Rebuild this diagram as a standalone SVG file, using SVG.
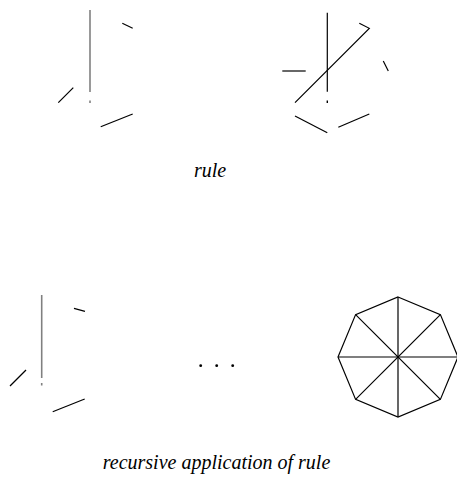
<svg xmlns="http://www.w3.org/2000/svg" width="457" height="479" viewBox="0 0 457 479">
<style>
.e{stroke:#000;stroke-width:1.2;fill:none;stroke-linecap:butt}
.g{stroke:#808080;stroke-width:1.6;fill:none}
.d{fill:#808080}
.t{font-family:"Liberation Serif",serif;font-style:italic;font-size:20px;fill:#000;text-anchor:middle}
</style>
<g id="rule-lhs">
<line class="g" x1="90" y1="10" x2="90" y2="92"/>
<rect class="d" x="89.2" y="100.5" width="1.6" height="2.5"/>
<line class="e" x1="122.3" y1="23.3" x2="132.7" y2="28.3"/>
<line class="e" x1="58.3" y1="102.7" x2="73.3" y2="87.7"/>
<line class="e" x1="100.7" y1="126.7" x2="132.7" y2="114"/>
</g>
<g id="rule-rhs">
<line class="e" x1="327.3" y1="12.7" x2="327.3" y2="91.7"/>
<rect x="326.6" y="100.5" width="1.4" height="2.5" fill="#000"/>
<polyline class="e" points="359.3,23.3 369.3,28.3 295,102.7"/>
<line class="e" x1="282.3" y1="71" x2="305.7" y2="71"/>
<line class="e" x1="383.3" y1="61" x2="388.3" y2="71"/>
<line class="e" x1="295" y1="116" x2="327.3" y2="132.7"/>
<line class="e" x1="338.3" y1="127.3" x2="369.3" y2="114"/>
</g>
<g id="seed">
<line class="g" x1="41.7" y1="295" x2="41.7" y2="378"/>
<rect class="d" x="40.9" y="383" width="1.6" height="2.5"/>
<line class="e" x1="74" y1="308.3" x2="85" y2="311.3"/>
<line class="e" x1="10" y1="386" x2="26" y2="370"/>
<line class="e" x1="52.7" y1="411.7" x2="84.7" y2="399"/>
</g>
<g id="dots">
<circle cx="200.7" cy="365.7" r="1.4"/>
<circle cx="216.7" cy="365.7" r="1.4"/>
<circle cx="232.7" cy="365.7" r="1.4"/>
</g>
<g id="octagon">
<polygon class="e" points="398,297 440.4,314.6 458,357 440.4,399.4 398,417 355.6,399.4 338,357 355.6,314.6"/>
<line class="e" x1="398" y1="297" x2="398" y2="417"/>
<line class="e" x1="338" y1="357" x2="458" y2="357"/>
<line class="e" x1="355.6" y1="314.6" x2="440.4" y2="399.4"/>
<line class="e" x1="440.4" y1="314.6" x2="355.6" y2="399.4"/>
</g>
<g id="labels">
<text class="t" x="210" y="177">rule</text>
<text class="t" x="216.5" y="469">recursive application of rule</text>
</g>
</svg>
